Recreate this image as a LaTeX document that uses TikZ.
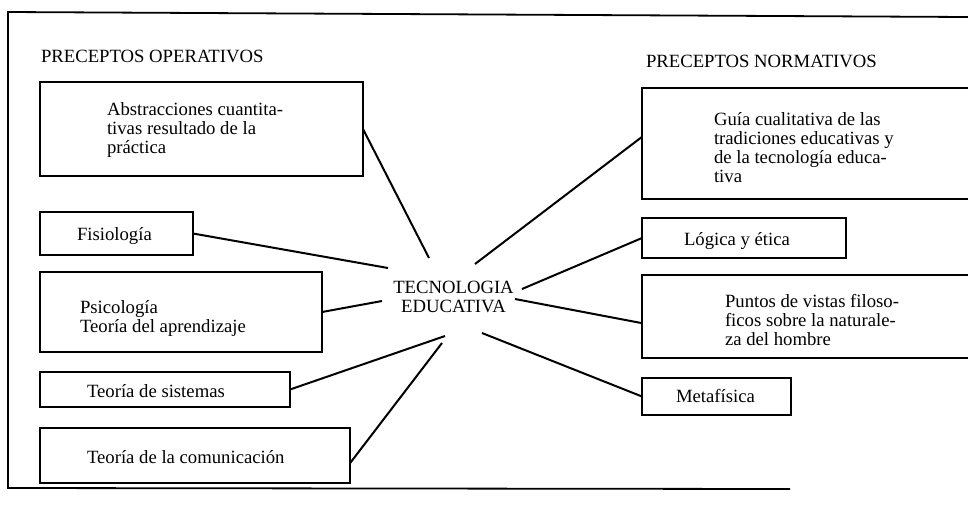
\documentclass[tikz,border=0pt]{standalone}
\usepackage{fontspec}
\setmainfont{Liberation Serif}
\usetikzlibrary{calc}
\begin{document}
\begin{tikzpicture}[x=1pt,y=-1pt,
  box/.style={draw, line width=1.8pt, inner sep=0pt, outer sep=0pt, anchor=north west},
  txt/.style={inner sep=0pt, outer sep=0pt, align=left, font=\fontsize{18.7}{19}\selectfont},
  link/.style={line width=2pt}]
\useasboundingbox (0,0) rectangle (968,507);
\fill[white] (0,0) rectangle (968,507);
\clip (0,0) rectangle (968,507);
% outer frame (open on the right)
\draw[line width=1.8pt] (790,489) -- (8,488) -- (8,12) -- (968,17);

% headings
\node[txt, anchor=base west] (hop) at (41,62) {PRECEPTOS OPERATIVOS};
\node[txt, anchor=base west] (hno) at (646,67) {PRECEPTOS NORMATIVOS};

% left boxes
\node[box, minimum width=323pt, minimum height=94pt] (abs) at (40,82) {};
\node[box, minimum width=153pt, minimum height=43pt] (fis) at (40,212) {};
\node[box, minimum width=282pt, minimum height=80pt] (psi) at (40,272) {};
\node[box, minimum width=250pt, minimum height=35pt] (sis) at (40,372) {};
\node[box, minimum width=310pt, minimum height=55pt] (com) at (40,428) {};

% right boxes (cut by the right edge)
\node[box, minimum width=400pt, minimum height=111pt] (gui) at (642,88) {};
\node[box, minimum width=204pt, minimum height=40pt] (log) at (642,218) {};
\node[box, minimum width=400pt, minimum height=83pt] (pun) at (642,275) {};
\node[box, minimum width=149pt, minimum height=37pt] (met) at (642,378) {};

% texts
\node[txt, anchor=west] (tabs) at (107,130) {Abstracciones cuantita-\\tivas resultado de la\\práctica};
\node[txt, anchor=base west] (tfis) at (77,240) {Fisiología};
\node[txt, anchor=west] (tpsi) at (80,318) {Psicología\\Teoría del aprendizaje};
\node[txt, anchor=base west] (tsis) at (87,397) {Teoría de sistemas};
\node[txt, anchor=base west] (tcom) at (87,463) {Teoría de la comunicación};

\node[txt, anchor=west] (tgui) at (714,148) {Guía cualitativa de las\\tradiciones educativas y\\de la tecnología educa-\\tiva};
\node[txt, anchor=base west] (tlog) at (684,245) {Lógica y ética};
\node[txt, anchor=west] (tpun) at (725,319.5) {Puntos de vistas filoso-\\ficos sobre la naturale-\\za del hombre};
\node[txt, anchor=base west] (tmet) at (676,402) {Metafísica};

% centre
\node[txt, align=center] (tec) at (453.5,296.5) {TECNOLOGIA\\EDUCATIVA};

% free ends of the connectors around the centre label
\coordinate (c1) at (429,258);
\coordinate (c2) at (388,268);
\coordinate (c3) at (382,301);
\coordinate (c4) at (445,336);
\coordinate (c5) at (442,343);
\coordinate (c6) at (475,264);
\coordinate (c7) at (522,289);
\coordinate (c8) at (515,299);
\coordinate (c9) at (482,333);

% connectors
\draw[link] (abs.east) -- (c1);
\draw[link] (fis.east) -- (c2);
\draw[link] (psi.east) -- (c3);
\draw[link] (sis.east) -- (c4);
\draw[link] ($(com.north east)!0.64!(com.south east)$) -- (c5);
\draw[link] ($(gui.north west)!0.44!(gui.south west)$) -- (c6);
\draw[link] (log.west) -- (c7);
\draw[link] ($(pun.north west)!0.58!(pun.south west)$) -- (c8);
\draw[link] (met.west) -- (c9);
\end{tikzpicture}
\end{document}
